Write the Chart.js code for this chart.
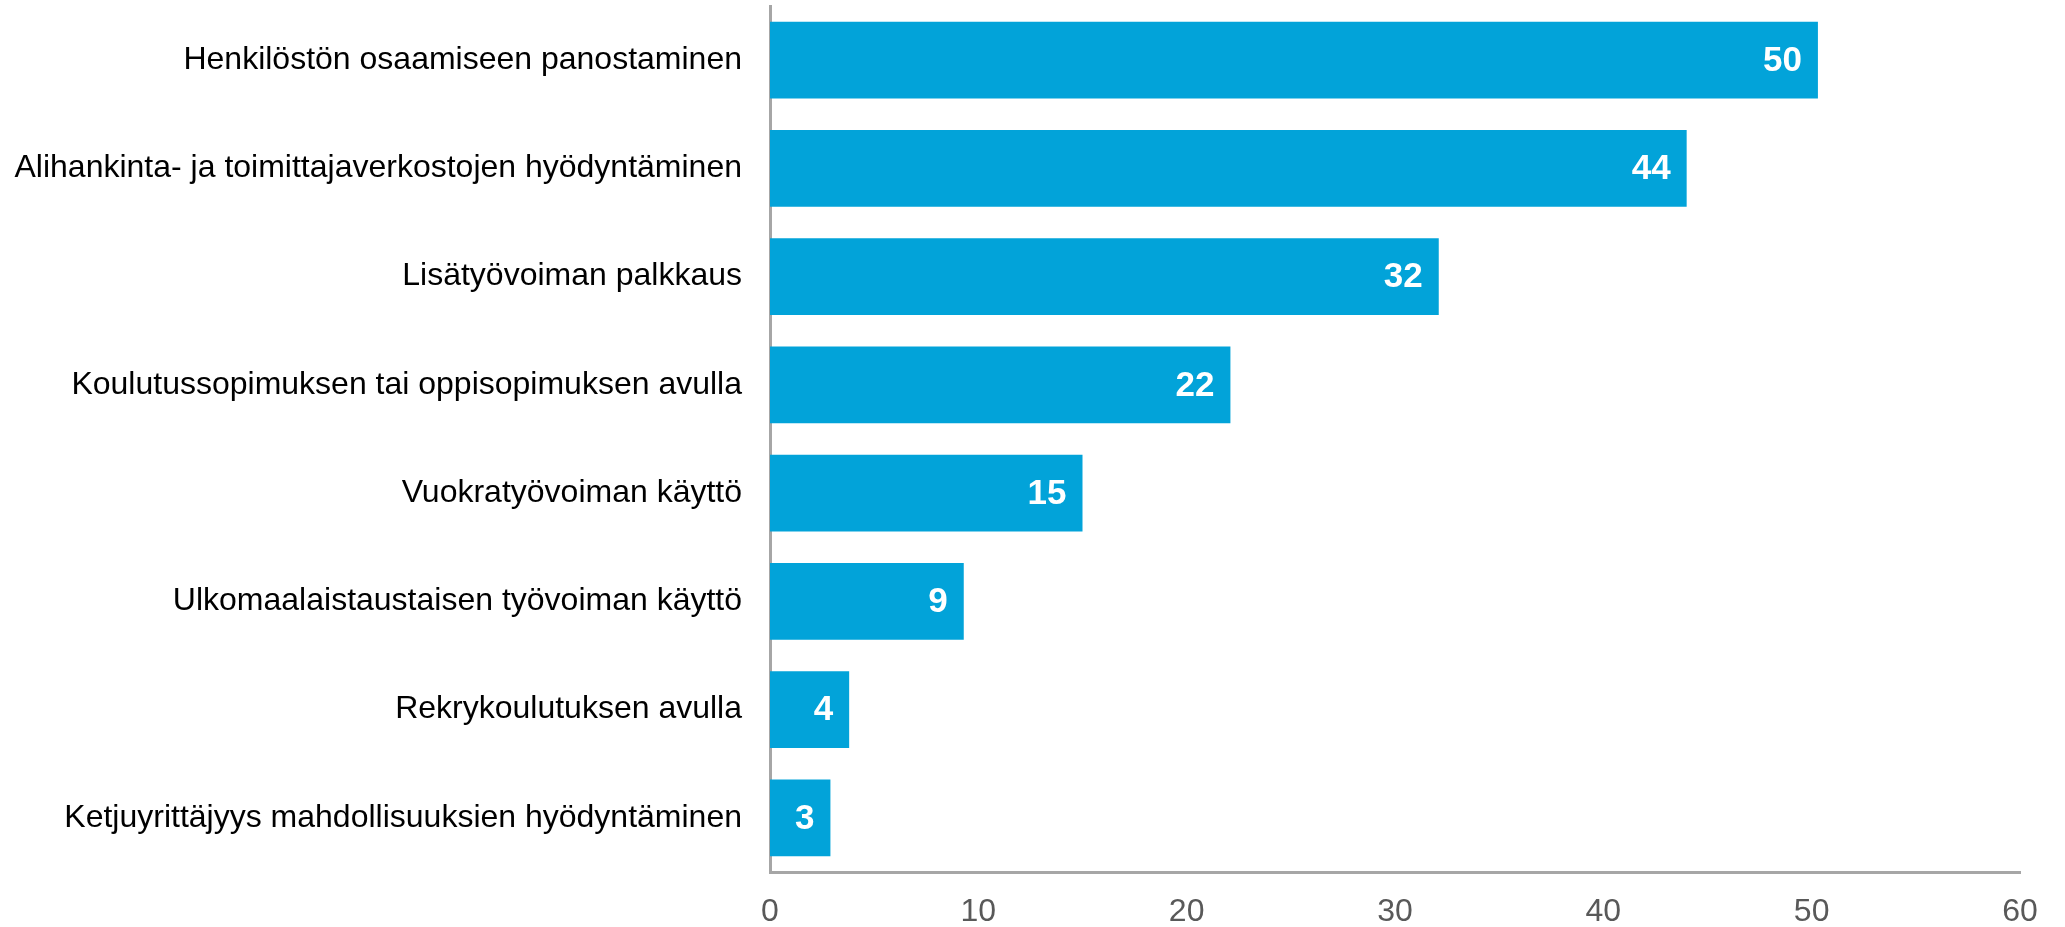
<!DOCTYPE html>
<html>
<head>
    <meta charset="utf-8">
    <script src="https://cdn.jsdelivr.net/npm/chart.js@4/dist/chart.umd.min.js"></script>
    <style>
        body { margin: 0; background: #fff; }
    </style>
</head>
<body>
    <div style="width: 2065px; height: 927px;">
        <canvas id="wykres" width="2065" height="927"></canvas>
    </div>
    <script>
        const kategorie = [
            "Henkilöstön osaamiseen panostaminen",
            "Alihankinta- ja toimittajaverkostojen hyödyntäminen",
            "Lisätyövoiman palkkaus",
            "Koulutussopimuksen tai oppisopimuksen avulla",
            "Vuokratyövoiman käyttö",
            "Ulkomaalaistaustaisen työvoiman käyttö",
            "Rekrykoulutuksen avulla",
            "Ketjuyrittäjyys mahdollisuuksien hyödyntäminen"
        ];
        const wartosci = [50.3, 44.0, 32.1, 22.1, 15.0, 9.3, 3.8, 2.9];
        const osX = [0, 10, 20, 30, 40, 50, 60];

        const niebieski = "#02A3D9";
        const szary = "#A6A6A6";
        const czcionka = "'Liberation Sans', Arial, sans-serif";

        // etykiety wartości na końcu słupków
        const etykiety = {
            id: "etykiety",
            afterDatasetsDraw(chart) {
                const ctx = chart.ctx;
                const meta = chart.getDatasetMeta(0);
                ctx.save();
                ctx.font = "bold 35px " + czcionka;
                ctx.fillStyle = "#fff";
                ctx.textAlign = "right";
                ctx.textBaseline = "middle";
                meta.data.forEach((bar, i) => {
                    ctx.fillText(Math.round(wartosci[i]), bar.x - 16, bar.y + 1);
                });
                ctx.restore();
            }
        };

        const dane = {
            labels: kategorie,
            datasets: [{
                data: wartosci,
                backgroundColor: niebieski,
                borderWidth: 0,
                barPercentage: 0.71,
                categoryPercentage: 1.0
            }]
        };

        const ctx = document.getElementById("wykres").getContext("2d");
        const wykres = new Chart(ctx, {
            type: "bar",
            data: dane,
            plugins: [etykiety],
            options: {
                indexAxis: "y",
                responsive: false,
                animation: false,
                layout: { padding: { top: 6, right: 45, bottom: 0, left: 0 } },
                plugins: {
                    legend: { display: false },
                    tooltip: { enabled: false }
                },
                scales: {
                    x: {
                        min: 0,
                        max: 60,
                        afterBuildTicks: (s) => { s.ticks = osX.map(v => ({ value: v })); },
                        afterFit: (s) => { s.height = 55; s.paddingLeft = 0; s.paddingRight = 0; },
                        grid: { display: false, drawTicks: false },
                        border: { color: szary, width: 3 },
                        ticks: {
                            color: "#595959",
                            padding: 24,
                            maxRotation: 0,
                            font: { family: czcionka, size: 32, lineHeight: 1 }
                        }
                    },
                    y: {
                        afterFit: (s) => { s.width = 770; s.paddingTop = 0; s.paddingBottom = 0; },
                        grid: { display: false, drawTicks: false },
                        border: { color: szary, width: 3 },
                        ticks: {
                            color: "#000",
                            padding: 28,
                            autoSkip: false,
                            font: { family: czcionka, size: 32 }
                        }
                    }
                }
            }
        });
    </script>
</body>
</html>
